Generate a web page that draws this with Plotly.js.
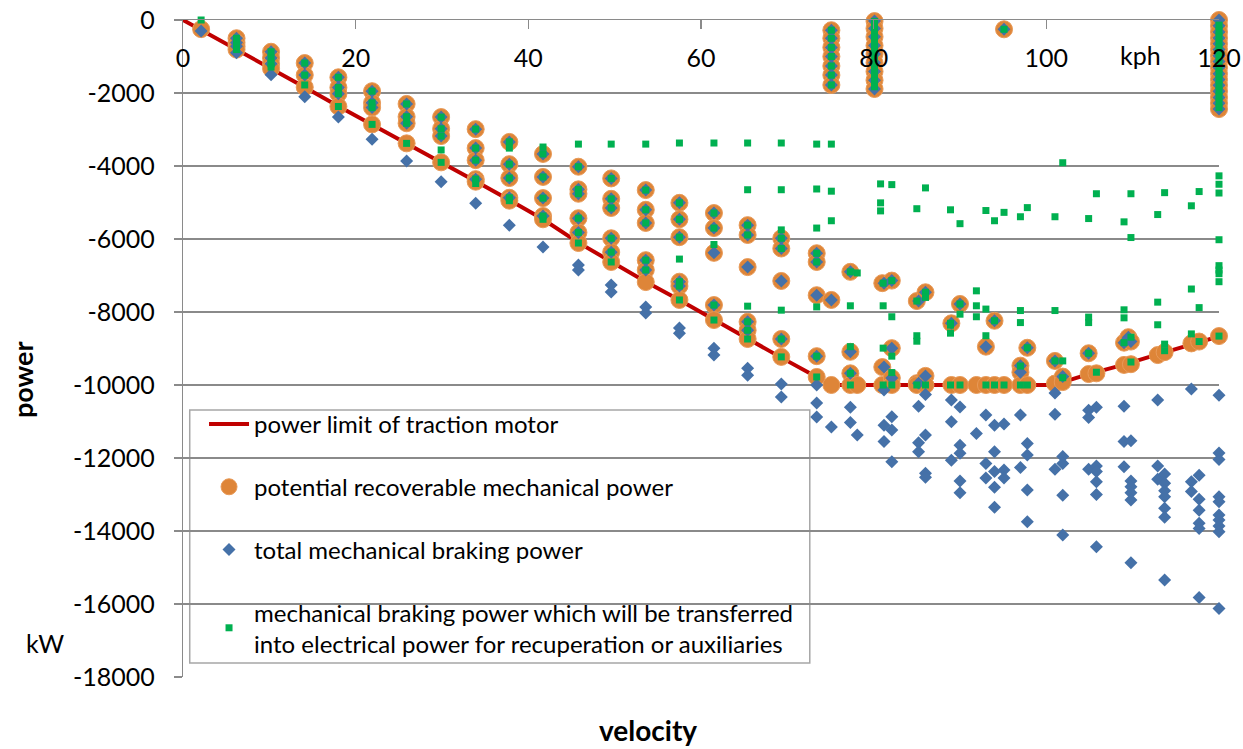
<!DOCTYPE html>
<html><head><meta charset="utf-8">
<script src="https://cdn.plot.ly/plotly-3.0.1.min.js"></script>
<style>html,body{margin:0;padding:0;background:#fff}#chart{width:1243px;height:749px}</style>
</head><body><div id="chart"></div>
<script>
// ---- power limit of traction motor (red line) ----
const limitVelocity = [0, 2.1, 6.2, 10.2, 14.1, 18.0, 21.9, 25.9, 29.9, 33.9, 37.8, 41.7, 45.8, 49.6, 53.6, 57.5, 61.5, 65.4, 69.3, 73.4, 75.1, 100.6, 101.9, 104.9, 109.0, 112.9, 116.8, 120];
const limitPower = [0, -270, -810, -1330, -1840, -2360, -2860, -3380, -3900, -4420, -4930, -5460, -6100, -6620, -7170, -7670, -8210, -8730, -9250, -9780, -10000, -10000, -9920, -9700, -9440, -9160, -8880, -8670];

// ---- potential recoverable mechanical power (orange circles) ----
const recoverableVelocity = [2.1, 6.2, 10.2, 14.1, 18.0, 21.9, 25.9, 29.9, 33.9, 37.8, 41.7, 45.8, 49.6, 53.6, 57.5, 61.5, 65.4, 69.3, 73.4, 75.1, 77.3, 78.1, 80.1, 81.0, 82.1, 85.0, 86.0, 89.0, 90.0, 91.9, 93.0, 94.0, 95.1, 97.0, 97.8, 101.0, 101.9, 104.9, 105.8, 109.0, 109.5, 109.8, 112.9, 113.7, 116.8, 117.7, 120];
const recoverablePower = [
  [-250],
  [-500, -620, -720, -810],
  [-870, -1040, -1200, -1330],
  [-1180, -1510, -1840],
  [-1570, -1850, -2020, -2370],
  [-1950, -2270, -2400, -2860],
  [-2300, -2650, -2830, -3380],
  [-2660, -2980, -3180, -3900],
  [-2990, -3510, -3840, -4360, -4430],
  [-3340, -3950, -4330, -4870, -4950],
  [-3670, -4300, -4880, -5370, -5460],
  [-4020, -4640, -4760, -5430, -5820, -6110],
  [-4340, -4900, -5150, -5980, -6360, -6630],
  [-4660, -5200, -5560, -6580, -6850, -7180],
  [-5010, -5460, -5950, -7170, -7290, -7670],
  [-5290, -5700, -6380, -7810, -8220],
  [-5620, -5890, -6770, -8270, -8500, -8740],
  [-5980, -6260, -7150, -8740, -9230],
  [-6390, -6630, -7540, -9210, -9780],
  [-280, -500, -750, -1000, -1260, -1510, -1780, -7670, -10000],
  [-6900, -9090, -9680, -10000],
  [-10000],
  [-30, -230, -460, -700, -930, -1170, -1410, -1650, -1890],
  [-7210, -9510, -10000],
  [-7140, -8990, -9810, -10000],
  [-7700, -9950, -10000],
  [-7460, -9750, -10000],
  [-8310, -10000],
  [-7780, -10000],
  [-10000],
  [-8950, -10000],
  [-8240, -10000],
  [-255, -10000],
  [-9470, -9650, -10000],
  [-8980, -10000],
  [-9340, -9960],
  [-9770, -9920],
  [-9130, -9700],
  [-9680],
  [-8840, -9450],
  [-8690],
  [-8810, -9430],
  [-9180],
  [-9100],
  [-8860],
  [-8810],
  [0, -160, -330, -490, -650, -810, -980, -1140, -1300, -1470, -1630, -1790, -1950, -2120, -2280, -2440, -8660]
];

// ---- total mechanical braking power (blue diamonds) ----
const totalVelocity = [2.1, 6.2, 10.2, 14.1, 18.0, 21.9, 25.9, 29.9, 33.9, 37.8, 41.7, 45.8, 49.6, 53.6, 57.5, 61.5, 65.4, 69.3, 73.4, 75.1, 77.3, 78.1, 80.1, 81.2, 82.1, 85.2, 86.0, 89.0, 90.0, 91.9, 93.0, 94.0, 95.1, 97.0, 97.8, 101.0, 101.9, 104.9, 105.8, 109.0, 109.5, 109.8, 112.9, 113.7, 116.8, 117.7, 120];
const totalPower = [
  [-300],
  [-500, -620, -720, -900],
  [-870, -1040, -1200, -1500],
  [-1180, -1510, -2100],
  [-1570, -1850, -2020, -2660],
  [-1950, -2270, -2400, -3270],
  [-2300, -2650, -2830, -3860],
  [-2660, -2980, -3180, -4430],
  [-2990, -3510, -3840, -4360, -5020],
  [-3340, -3950, -4330, -4870, -5620],
  [-3670, -4300, -4880, -5370, -6220],
  [-4020, -4640, -4760, -5430, -5820, -6710, -6850],
  [-4340, -4900, -5150, -5980, -6360, -7260, -7450],
  [-4660, -5200, -5560, -6580, -6850, -7860, -8030],
  [-5010, -5460, -5950, -7170, -7290, -8440, -8580],
  [-5290, -5700, -6380, -7810, -8990, -9180],
  [-5620, -5890, -6770, -8270, -8500, -9540, -9730],
  [-5980, -6260, -7150, -8740, -9970, -10330],
  [-6390, -6630, -7540, -9210, -10000, -10490, -10880],
  [-280, -500, -750, -1000, -1260, -1510, -1780, -7670, -11150],
  [-6900, -9090, -9680, -10610, -11030],
  [-11370],
  [-30, -230, -460, -700, -930, -1170, -1410, -1650, -1890],
  [-7210, -9510, -10140, -11100, -11550],
  [-7140, -8990, -9810, -10870, -11230, -12100],
  [-7700, -9950, -10580, -11580, -11830],
  [-7460, -9750, -10260, -11370, -12420, -12530],
  [-8310, -10410, -11010, -12060],
  [-7780, -10600, -11650, -11870, -12630, -12950],
  [-11330],
  [-8950, -10820, -12150, -12550],
  [-8240, -11100, -11830, -12370, -12800, -13350],
  [-255, -11070, -12330, -12550],
  [-9470, -9650, -10820, -12260],
  [-8980, -11600, -11920, -12880, -13750],
  [-9340, -10220, -10800, -12310],
  [-9770, -11960, -12150, -13020, -14110],
  [-9130, -10690, -10890, -12310],
  [-10610, -12220, -12370, -12650, -13000, -14430],
  [-8840, -10580, -11550, -12240],
  [-8690],
  [-8810, -11530, -12630, -12790, -12950, -13150, -14870],
  [-10410, -12220, -12580],
  [-12440, -12690, -12900, -13060, -13380, -13620, -15340],
  [-10110, -12650, -12920],
  [-12470, -13130, -13430, -13790, -13930, -15820],
  [0, -160, -330, -490, -650, -810, -980, -1140, -1300, -1470, -1630, -1790, -1950, -2120, -2280, -2440, -10280, -11860, -12040, -13060, -13200, -13560, -13700, -13860, -14020, -16120]
];

// ---- mechanical braking power transferred into electrical power (green squares) ----
const transferredVelocity = [2.1, 6.2, 10.2, 14.1, 18.0, 21.9, 25.9, 29.9, 33.9, 37.8, 41.7, 45.8, 49.6, 53.6, 57.5, 61.5, 65.4, 69.3, 73.4, 75.1, 77.3, 78.1, 80.1, 80.8, 81.1, 82.1, 85.0, 86.0, 88.9, 90.0, 91.9, 93.0, 94.0, 95.1, 97.0, 97.8, 101.0, 101.9, 104.9, 105.8, 109.0, 109.8, 112.9, 113.7, 116.8, 117.7, 120];
const transferredPower = [
  [0],
  [-500, -620, -720, -810],
  [-870, -1040, -1200, -1290],
  [-1180, -1510, -1780],
  [-1570, -1850, -2020, -2370],
  [-1950, -2270, -2400, -2860],
  [-2300, -2650, -2830, -3380],
  [-2660, -2980, -3180, -3560, -3900],
  [-2990, -3510, -3840, -4360, -4480],
  [-3340, -3510, -3950, -4330, -4870, -4950],
  [-3480, -3670, -4300, -4880, -5370, -5460],
  [-3400, -4020, -4640, -4760, -5430, -5820, -6110],
  [-3400, -4340, -4900, -5150, -5980, -6360, -6630],
  [-3400, -4660, -5200, -5560, -6580, -6850],
  [-3370, -5010, -5460, -5950, -6550, -7170, -7290, -7670],
  [-3370, -5290, -5700, -6150, -7810, -8220],
  [-3370, -4650, -5620, -5890, -7840, -8270, -8500, -8740],
  [-3370, -4650, -5750, -5980, -6260, -7950, -8740, -9230],
  [-3400, -4630, -5700, -6390, -6630, -7860, -9210, -9780],
  [-280, -500, -750, -1000, -1260, -1510, -1780, -3400, -4690, -5500],
  [-6900, -7830, -8950, -9680, -10000],
  [-6930],
  [-40, -180, -330, -470, -620, -770, -920, -1070, -1220, -1370, -1520, -1670, -1830],
  [-4490, -5010, -5230],
  [-7210, -7830, -8990, -10000],
  [-4510, -7140, -8130, -9210, -9660, -10000],
  [-5170, -7700, -8650, -8800, -10000],
  [-4600, -7460, -7600, -10000],
  [-5200, -8310, -8360, -8580, -10000],
  [-5580, -7780, -8060, -10000],
  [-7420, -7830, -8130],
  [-5220, -7920, -8650, -10000],
  [-5500, -8240, -10000],
  [-255, -5270, -10000],
  [-5390, -7960, -8290, -9480, -10000],
  [-5140, -8980, -10000],
  [-5390, -7960, -9340],
  [-3910, -9340, -9800],
  [-5440, -8140, -8290, -9130],
  [-4760, -9650],
  [-5530, -7940, -8160, -8840],
  [-4760, -5960, -8690, -9370],
  [-5330, -7730, -8350],
  [-4730, -8880, -9060],
  [-5090, -7370, -8600],
  [-4700, -7880, -8810],
  [10, -140, -290, -440, -590, -740, -890, -1040, -1190, -1340, -1490, -1640, -1790, -1940, -2090, -2240, -2400, -4270, -4500, -4740, -6020, -6730, -6850, -6950, -7170, -8660]
];

// ---- axis ticks ----
const xTickValues = [0, 20, 40, 60, 80, 100, 120];
const xTickLabels = ['0', '20', '40', '60', '80', '100', '120'];
const yTickValues = [0, -2000, -4000, -6000, -8000, -10000, -12000, -14000, -16000, -18000];
const yTickLabels = ['0', '-2000', '-4000', '-6000', '-8000', '-10000', '-12000', '-14000', '-16000', '-18000'];

function flatten(vs, ps) {
  const x = [], y = [];
  vs.forEach((v, i) => ps[i].forEach(p => { x.push(v); y.push(p); }));
  return {x, y};
}
const rec = flatten(recoverableVelocity, recoverablePower);
const tot = flatten(totalVelocity, totalPower);
const tra = flatten(transferredVelocity, transferredPower);

const FONT = 'Lato, "Open Sans", sans-serif';
const GRID = '#8a8a8a';

const traces = [
  {x: limitVelocity, y: limitPower, mode: 'lines', name: 'power limit of traction motor',
   line: {color: '#C00000', width: 4}, legendgroup: 'a', cliponaxis: false},
  {x: rec.x, y: rec.y, mode: 'markers', name: 'potential recoverable mechanical power',
   marker: {symbol: 'circle', size: 17, color: '#DE8538', line: {color: '#E89A58', width: 1}}, legendgroup: 'b', cliponaxis: false},
  {x: tot.x, y: tot.y, mode: 'markers', name: 'total mechanical braking power',
   marker: {symbol: 'diamond', size: 10, color: '#4571A8'}, legendgroup: 'c', cliponaxis: false},
  {x: tra.x, y: tra.y, mode: 'markers', name: 'mechanical braking power which will be transferred<br>into electrical power for recuperation or auxiliaries',
   marker: {symbol: 'square', size: 7, color: '#00B050'}, legendgroup: 'd', cliponaxis: false}
];

const layout = {
  width: 1243, height: 749,
  margin: {l: 183, r: 24, t: 20, b: 72},
  paper_bgcolor: '#ffffff', plot_bgcolor: '#ffffff',
  font: {family: FONT, size: 25, color: '#000'},
  showlegend: true,
  legend: {x: 0.0203, y: 0.4186, xanchor: 'left', yanchor: 'top',
           bgcolor: 'rgba(0,0,0,0)', borderwidth: 0,
           font: {family: FONT, size: 24, color: '#000'},
           tracegroupgap: 28.5, itemwidth: 40},
  shapes: [
    {type: 'rect', xref: 'x', yref: 'y', x0: 0.78, x1: 72.6, y0: -17616, y1: -10685,
     layer: 'below', fillcolor: '#ffffff', line: {color: '#a6a6a6', width: 1.5}}
  ],
  xaxis: {range: [0, 120], side: 'top', tickmode: 'array', tickvals: xTickValues, ticktext: xTickLabels,
          ticks: 'inside', ticklen: 9, tickcolor: GRID, tickwidth: 1.3,
          ticklabelposition: 'inside', ticklabeloverflow: 'allow', ticklabelstandoff: 22,
          showgrid: false, zeroline: false, showline: true, linecolor: GRID, linewidth: 1.3,
          tickfont: {family: FONT, size: 25, color: '#000'}, fixedrange: true},
  yaxis: {range: [-18000, 0], tickmode: 'array', tickvals: yTickValues, ticktext: yTickLabels,
          ticks: 'outside', ticklen: 8, tickcolor: GRID, tickwidth: 1.3, ticklabelstandoff: 14,
          showgrid: true, gridcolor: GRID, gridwidth: 1.3, zeroline: false,
          showline: true, linecolor: GRID, linewidth: 1.3,
          tickfont: {family: FONT, size: 25, color: '#000'}, fixedrange: true},
  annotations: [
    {text: 'kph', xref: 'paper', yref: 'paper', x: 0.924, y: 0.9467, xanchor: 'center', yanchor: 'middle', showarrow: false,
     font: {family: FONT, size: 25, color: '#000'}},
    {text: 'kW', xref: 'paper', yref: 'paper', x: -0.1332, y: 0.0518, xanchor: 'center', yanchor: 'middle', showarrow: false,
     font: {family: FONT, size: 25, color: '#000'}},
    {text: '<b>power</b>', xref: 'paper', yref: 'paper', x: -0.1554, y: 0.452, xanchor: 'center', yanchor: 'middle', showarrow: false, textangle: -90,
     font: {family: FONT, size: 27, color: '#000'}},
    {text: '<b>velocity</b>', xref: 'paper', yref: 'paper', x: 0.4488, y: -0.0807, xanchor: 'center', yanchor: 'middle', showarrow: false,
     font: {family: FONT, size: 28, color: '#000'}}
  ]
};

Plotly.newPlot('chart', traces, layout, {displayModeBar: false, staticPlot: true});
</script>
</body></html>
